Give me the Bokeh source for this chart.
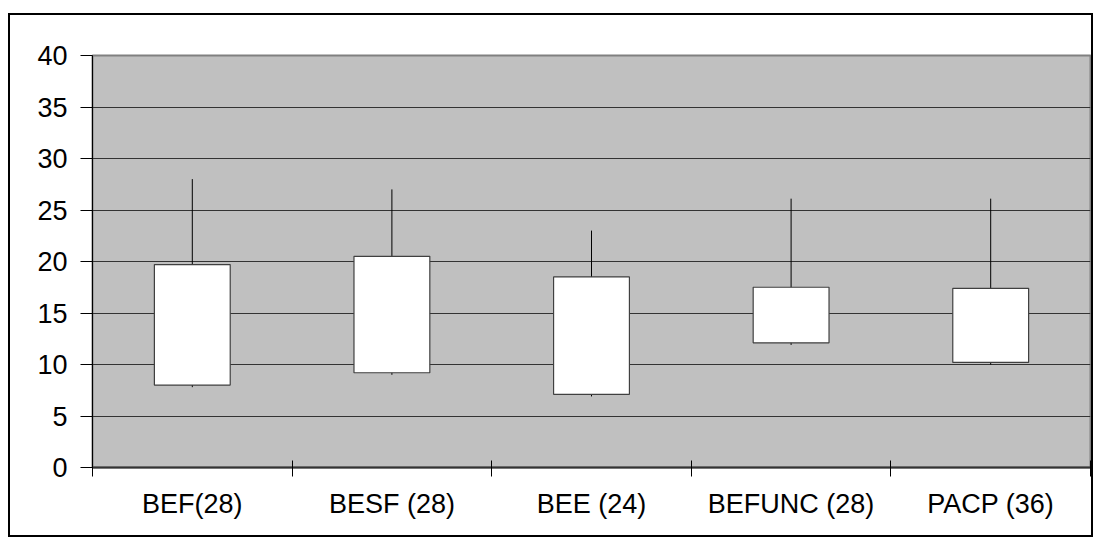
from bokeh.plotting import figure
from bokeh.models import Range1d, FixedTicker, Spacer, ColumnDataSource
from bokeh.layouts import column, row
from bokeh.embed import file_html
from bokeh.resources import INLINE

categories = ["BEF(28)", "BESF (28)", "BEE (24)", "BEFUNC (28)", "PACP (36)"]
low = [7.8, 9.0, 6.9, 11.9, 10.0]
box_bottom = [8.0, 9.2, 7.1, 12.1, 10.2]
box_top = [19.7, 20.5, 18.5, 17.5, 17.4]
high = [28.0, 27.0, 23.0, 26.1, 26.1]
y_ticks = [0, 5, 10, 15, 20, 25, 30, 35, 40]

n = len(categories)
xs = [i + 0.5 for i in range(n)]
src = ColumnDataSource(dict(x=xs, low=low, bb=box_bottom, bt=box_top, high=high))

FONT = "Liberation Sans"

p = figure(frame_width=998, frame_height=412,
           min_border_left=82, min_border_right=1, min_border_top=40, min_border_bottom=68,
           x_range=Range1d(0, n), y_range=Range1d(y_ticks[0], y_ticks[-1]),
           output_backend="svg", toolbar_location=None,
           background_fill_color="#C0C0C0", border_fill_color="white")

p.outline_line_color = "#808080"
p.outline_line_width = 2

p.segment(x0="x", y0="low", x1="x", y1="high", source=src, line_color="black", line_width=1)
p.vbar(x="x", width=0.38, bottom="bb", top="bt", source=src,
       fill_color="white", line_color="#404040", line_width=1.2)

# grid
p.xgrid.grid_line_color = None
p.ygrid.ticker = FixedTicker(ticks=y_ticks)
p.ygrid.grid_line_color = "#333333"
p.ygrid.grid_line_width = 1

# x axis
xa = p.xaxis[0]
xa.ticker = FixedTicker(ticks=xs, minor_ticks=list(range(n + 1)))
xa.major_label_overrides = {x: c for x, c in zip(xs, categories)}
xa.major_tick_line_color = None
xa.major_tick_in = 0
xa.major_tick_out = 0
xa.minor_tick_line_color = "black"
xa.minor_tick_in = 7
xa.minor_tick_out = 9
xa.axis_line_color = "#333333"
xa.axis_line_width = 2
xa.major_label_text_font = FONT
xa.major_label_text_font_size = "27px"
xa.major_label_text_color = "black"
xa.major_label_standoff = 12

# y axis
ya = p.yaxis[0]
ya.ticker = FixedTicker(ticks=y_ticks)
ya.major_tick_in = 0
ya.major_tick_out = 12
ya.major_tick_line_color = "black"
ya.minor_tick_line_color = None
ya.axis_line_color = "black"
ya.axis_line_width = 1
ya.major_label_text_font = FONT
ya.major_label_text_font_size = "27px"
ya.major_label_text_color = "black"
ya.major_label_standoff = 13

framed = column(p, styles={"border": "2px solid black"})
layout = column(Spacer(height=13, width=10), row(Spacer(width=8, height=10), framed))

open("out.html", "w").write(file_html(layout, INLINE))
